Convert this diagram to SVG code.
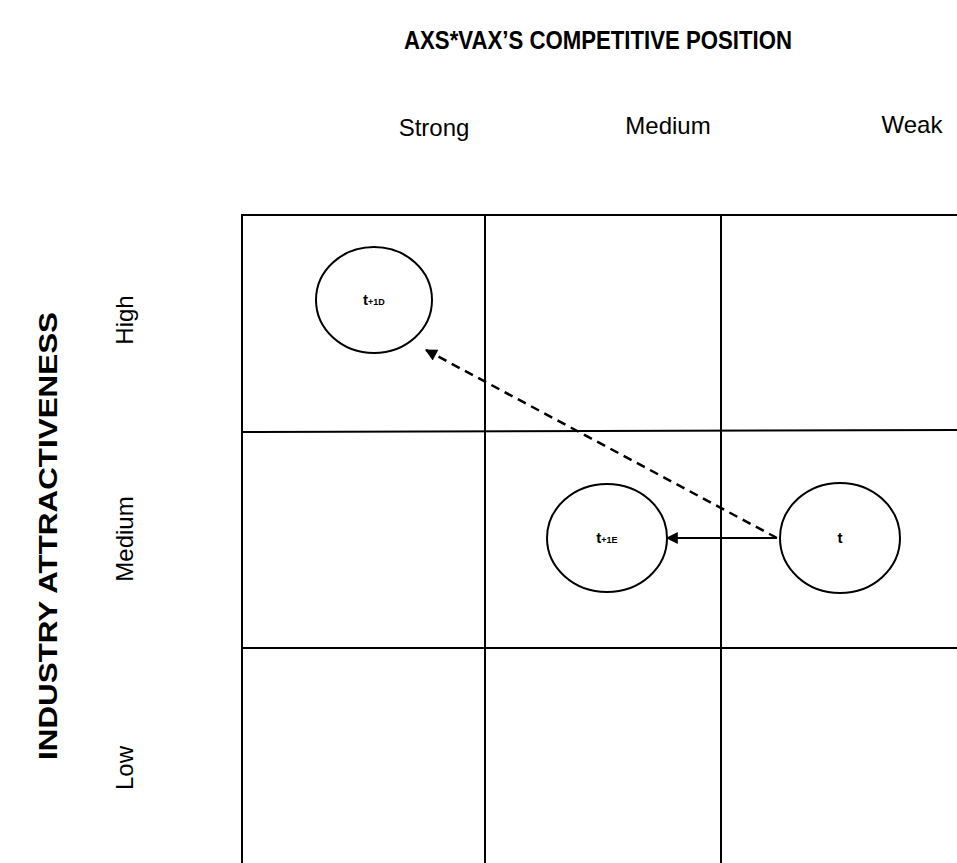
<svg xmlns="http://www.w3.org/2000/svg" width="957" height="863" viewBox="0 0 957 863">
<style>
.lbl{font-family:"Liberation Sans",Arial,sans-serif;font-size:24px;fill:#000;text-anchor:middle}
.ttl{font-family:"Liberation Sans",Arial,sans-serif;font-size:25px;font-weight:bold;fill:#000;text-anchor:middle}
.grid{stroke:#000;stroke-width:2;fill:none}
.node{fill:#fff;stroke:#000;stroke-width:2}
.nt{font-family:"Liberation Sans",Arial,sans-serif;font-size:15px;font-weight:bold;fill:#000;text-anchor:middle}
.sub{font-size:9px}
</style>
<defs>
<marker id="ah" viewBox="0 0 10 10" refX="9" refY="5" markerWidth="20" markerHeight="12" orient="auto" markerUnits="userSpaceOnUse">
<path d="M0,0 L10,5 L0,10 z" fill="#000"/>
</marker>
</defs>
<text class="ttl" x="598" y="49" textLength="388" lengthAdjust="spacingAndGlyphs">AXS*VAX’S COMPETITIVE POSITION</text>
<text class="lbl" x="434" y="136">Strong</text>
<text class="lbl" x="668" y="134">Medium</text>
<text class="lbl" x="912" y="133">Weak</text>
<text class="ttl" transform="translate(57,536) rotate(-90)" textLength="448" lengthAdjust="spacingAndGlyphs">INDUSTRY ATTRACTIVENESS</text>
<text class="lbl" transform="translate(133,320) rotate(-90)">High</text>
<text class="lbl" transform="translate(133,539) rotate(-90)">Medium</text>
<text class="lbl" transform="translate(133,768) rotate(-90)">Low</text>
<g id="grid">
<rect class="grid" x="242" y="215" width="716" height="660"/>
<line class="grid" x1="485" y1="214" x2="485" y2="863"/>
<line class="grid" x1="721" y1="214" x2="721" y2="863"/>
<line class="grid" x1="242" y1="432" x2="957" y2="430"/>
<line class="grid" x1="242" y1="648" x2="957" y2="648"/>
</g>
<g id="connectors">
<line x1="777" y1="538" x2="426" y2="350" stroke="#000" stroke-width="2.5" stroke-dasharray="9,6" marker-end="url(#ah)"/>
<line x1="777" y1="538" x2="667" y2="538" stroke="#000" stroke-width="2" marker-end="url(#ah)"/>
</g>
<g id="n-t1d">
<ellipse class="node" cx="374" cy="300" rx="58" ry="53"/>
<text class="nt" x="374" y="305">t<tspan class="sub">+1D</tspan></text>
</g>
<g id="n-t1e">
<ellipse class="node" cx="607" cy="538" rx="60" ry="54"/>
<text class="nt" x="607" y="543">t<tspan class="sub">+1E</tspan></text>
</g>
<g id="n-t">
<ellipse class="node" cx="840" cy="538" rx="60" ry="55"/>
<text class="nt" x="840" y="543">t</text>
</g>
</svg>
